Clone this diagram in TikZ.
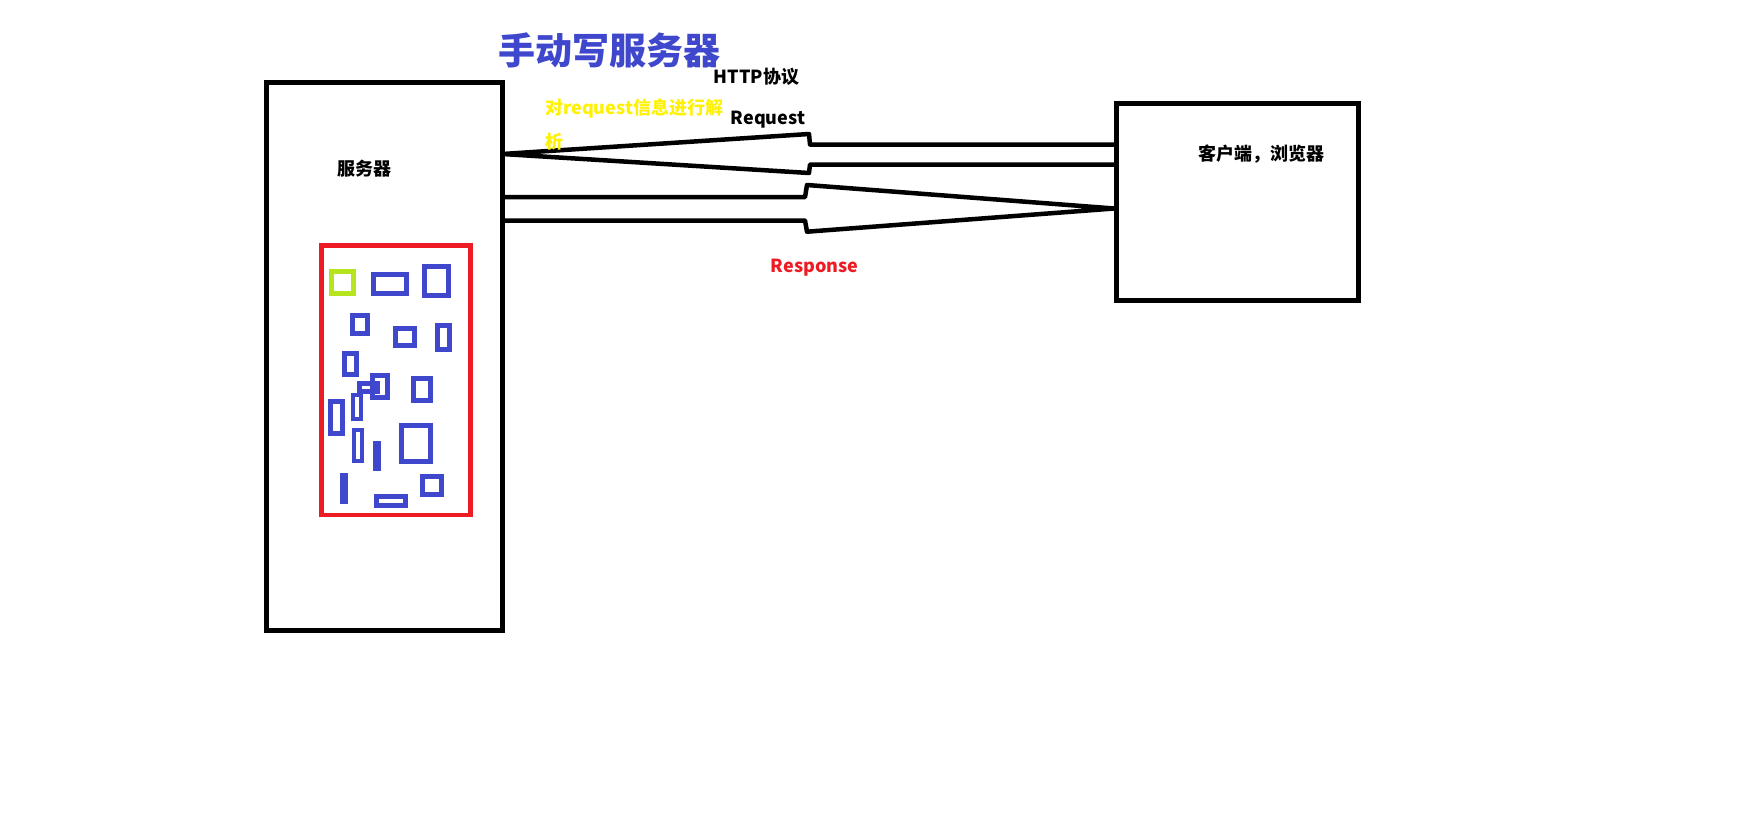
\documentclass[tikz,border=0pt]{standalone}
\usepackage{fontspec}
\setmainfont{Noto Sans CJK SC}
\definecolor{pblue}{RGB}{63,72,204}
\definecolor{pred}{RGB}{237,28,36}
\definecolor{pyellow}{RGB}{255,242,0}
\definecolor{plime}{RGB}{181,230,29}
\begin{document}
\begin{tikzpicture}[x=1pt,y=-1pt,
  box/.style={draw=black,line width=5pt,inner sep=0pt,outer sep=0pt},
  lbl/.style={inner sep=0pt,font=\fontsize{18}{20}\selectfont\bfseries},
  blockarrow/.style={draw=black,line width=4.5pt,line join=round},
  brect/.style={draw=pblue,line width=4.7pt},
  bfill/.style={fill=pblue}]
\useasboundingbox[fill=white] (0,0) rectangle (1763,824);
% main boxes
\node[box,minimum width=236pt,minimum height=547.5pt] (server) at (384.5,356.25) {};
\node[box,minimum width=241.5pt,minimum height=197pt] (client) at (1237.25,202) {};
\node[draw=pred,line width=4.7pt,inner sep=0pt,minimum width=149.4pt,minimum height=269.3pt] (store) at (396,380.35) {};
% small rectangles inside the red box
\draw[draw=plime,line width=4.7pt] (331.3,271.3) rectangle (353.3,293.3);
\draw[brect] (373.3,274.3) rectangle (406.3,293.3);
\draw[brect] (424.3,266.3) rectangle (448.3,295.3);
\draw[brect] (352.3,315.3) rectangle (367.3,333.3);
\draw[brect] (395.3,328.3) rectangle (414.3,345.3);
\draw[brect] (437.3,325.3) rectangle (449.3,349.3);
\draw[brect] (344.3,353.3) rectangle (356.3,374.3);
\draw[brect] (372.3,375.3) rectangle (387.3,397.3);
\draw[brect] (359.3,383.3) rectangle (377.7,391.3);
\draw[brect] (413.3,378.3) rectangle (430.3,400.3);
\draw[brect] (330.3,401.3) rectangle (342.3,433.3);
\draw[brect,line width=4.2pt] (353.3,395.3) rectangle (361.3,419.3);
\draw[brect,line width=4.2pt] (354.3,430.3) rectangle (362.3,461.3);
\fill[bfill] (373,441) rectangle (380.7,470.7);
\draw[brect] (401.3,425.3) rectangle (430.3,461.3);
\fill[bfill] (340,473) rectangle (347.7,503.7);
\draw[brect] (422.3,476.3) rectangle (441.3,494.3);
\draw[brect] (376.3,496.3) rectangle (405.3,505.3);
% request arrow (client -> server)
\coordinate (reqtip) at (server.east |- 0,154);
\draw[blockarrow] (client.west |- 0,144.5) -- (810,144.5) -- (809,134) -- (reqtip)
  -- (809,173) -- (810,164.5) -- (client.west |- 0,164.5);
% response arrow (server -> client)
\coordinate (restip) at (1114,208.5);
\draw[blockarrow] (server.east |- 0,197.2) -- (805,197.2) -- (807,185) -- (restip)
  -- (807,231.7) -- (805,220.5) -- (server.east |- 0,220.5);
% texts
\node[inner sep=0pt,text=pblue,font=\fontsize{37}{40}\selectfont\bfseries] (title) at (609,50) {手动写服务器};
\node[lbl] (http) at (756.5,76.5) {HTTP协议};
\node[lbl,text=pyellow,anchor=west] (parse1) at (545,109) {对request信息进行解};
\node[lbl,text=pyellow,anchor=west] (parse2) at (545,141.5) {析};
\node[lbl] (req) at (768,119.5) {Request};
\node[lbl] (srvlbl) at (364,168.5) {服务器};
\node[lbl] (clilbl) at (1261,154.5) {客户端，浏览器};
\node[lbl,text=pred] (resp) at (814.5,267.5) {Response};
\end{tikzpicture}
\end{document}
